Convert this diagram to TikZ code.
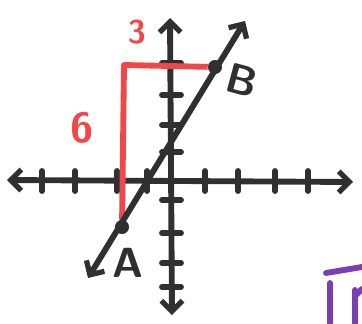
\documentclass[tikz,border=0pt]{standalone}
\usepackage{tikz}
\usetikzlibrary{arrows.meta, calc}
\definecolor{inkblack}{RGB}{48,48,50}
\definecolor{inkred}{RGB}{240,72,72}
\definecolor{inkpurple}{RGB}{122,62,176}

\begin{document}
\begin{tikzpicture}[
  x=0.03cm, y=-0.03cm,
  axisline/.style = {line width=5pt, color=inkblack, line cap=round,
                 {Straight Barb[length=9pt, width=18pt, line width=4.5pt]}-{Straight Barb[length=9pt, width=18pt, line width=4.5pt]}},
  tickmark/.style = {line width=5pt, color=inkblack, line cap=round},
  redline/.style  = {line width=5pt, color=inkred, line join=round},
  purpline/.style = {line width=5pt, color=inkpurple, line cap=round},
  dotnode/.style  = {circle, fill=inkblack, inner sep=0pt, minimum size=12pt},
  lbl/.style      = {font=\fontsize{36}{38}\selectfont\sffamily\bfseries, inner sep=0pt},
]
\useasboundingbox (0,0) rectangle (362,323);

%% --- Axes ---
\coordinate (xl) at (7,180);
\coordinate (xr) at (353,182);
\coordinate (yt) at (170,18);
\coordinate (yb) at (172,315);
\draw[axisline] (xl) -- (xr);
\draw[axisline] (yb) -- (yt);

%% --- Ticks ---
\foreach \x in {42,75,117,147,205,238,275,308} {
  \draw[tickmark] (\x,171) -- (\x,191);
}
\foreach \y in {63,95,125,152,200,233,263,287} {
  \draw[tickmark] (162,\y) -- (181,\y);
}

%% --- Points and rise/run ---
\node[dotnode] (A) at (122,227) {};
\node[dotnode] (B) at (215,67) {};
\coordinate (C) at ($(A |- B)+(2,-2)$);
\draw[redline] (A) -- (C) -- (B);

%% --- Line through A and B ---
\coordinate (lo) at (88,278);
\coordinate (hi) at (245,21);
\draw[axisline] (lo) -- (hi);

%% --- Labels ---
\node[lbl, text=inkred] (rise) at (82,128) {6};
\node[lbl, text=inkred, font=\fontsize{28}{30}\selectfont\sffamily\bfseries] (run) at (137,32) {3};
\node[lbl, text=inkblack, rotate=-15] (lB) at (242,80) {B};
\node[lbl, text=inkblack] (lA) at (128,263) {A};

%% --- Purple corner (cut off) ---
\draw[purpline] (326,273) -- (362,267);
\draw[purpline] (330,283) -- (330,323);
\draw[purpline] (355,290) -- (355,323);
\draw[purpline] (355,296) -- (362,289);

\end{tikzpicture}
\end{document}
